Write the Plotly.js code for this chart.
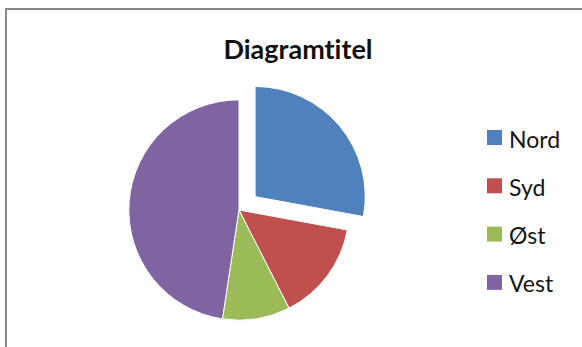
<!DOCTYPE html>
<html>
<head>
<meta charset="utf-8">
<script src="https://cdn.plot.ly/plotly-3.0.1.min.js"></script>
<style>
html,body{margin:0;padding:0;background:#fff;}
#chart{width:582px;height:347px;}
#chart text{font-variant-ligatures:none;font-feature-settings:"liga" 0,"clig" 0;}
</style>
</head>
<body>
<div id="chart"></div>
<script>
// Data
const labels = ["Nord", "Syd", "Øst", "Vest"];
const values = [27.9, 14.6, 9.9, 47.6];
const pulls = [0.19, 0, 0, 0];
const colors = ["#4F81BD", "#C0504D", "#9BBB59", "#8064A2"];
const chartTitle = "Diagramtitel";

const W = 582, H = 347;
const px = x => x / W;
const py = y => 1 - y / H;

// Legend (drawn as shapes + annotations built from the arrays)
const legendTop = 137.5, legendStep = 48.3;
const shapes = [{
  type: "rect", xref: "paper", yref: "paper",
  x0: px(6), x1: 1.05, y0: -0.05, y1: py(9),
  line: {color: "#888888", width: 2}, fillcolor: "rgba(0,0,0,0)", layer: "above"
}];
const annotations = [];
labels.forEach((lab, i) => {
  const cy = legendTop + i * legendStep;
  shapes.push({
    type: "rect", xref: "paper", yref: "paper",
    x0: px(487), x1: px(502), y0: py(cy + 7.5), y1: py(cy - 7.5),
    fillcolor: colors[i], line: {width: 0}
  });
  annotations.push({
    xref: "paper", yref: "paper", x: px(507), y: py(cy + 1),
    xanchor: "left", yanchor: "middle", showarrow: false,
    text: lab, font: {family: "Lato, 'Noto Sans', sans-serif", size: 23, color: "#141414"}
  });
});

const trace = {
  type: "pie",
  labels: labels,
  values: values,
  pull: pulls,
  sort: false,
  direction: "clockwise",
  rotation: 0,
  textinfo: "none",
  hoverinfo: "label+value",
  marker: {colors: colors, line: {color: "#ffffff", width: 1}},
  domain: {x: [0.1854, 0.6359], y: [0.0141, 0.7755]},
  showlegend: false
};

const layout = {
  width: W, height: H,
  margin: {l: 0, r: 0, t: 0, b: 0},
  paper_bgcolor: "#ffffff",
  showlegend: false,
  title: {
    text: chartTitle,
    x: px(298), xanchor: "center",
    y: py(50), yanchor: "middle",
    font: {family: "Lato, 'Noto Sans', sans-serif", size: 27, weight: "bold", color: "#111111"}
  },
  shapes: shapes,
  annotations: annotations
};

Plotly.newPlot("chart", [trace], layout, {displayModeBar: false, staticPlot: true});
</script>
</body>
</html>
